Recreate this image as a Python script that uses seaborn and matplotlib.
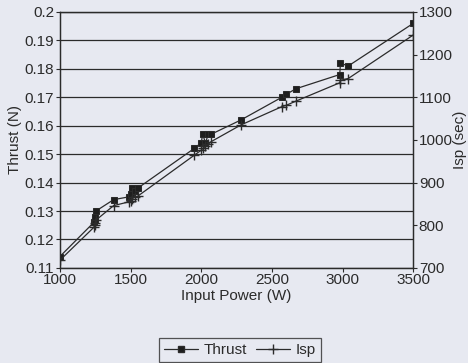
import matplotlib
matplotlib.use("Agg")
import matplotlib.pyplot as plt
import seaborn as sns
import pandas as pd
from matplotlib.lines import Line2D

# ── Data ─────────────────────────────────────────────────────────────────────
power_w = [1000, 1240, 1245, 1250, 1255, 1380, 1490, 1500, 1510, 1530, 1550,
           1950, 2000, 2010, 2030, 2050, 2070, 2280, 2570, 2600, 2670,
           2980, 2985, 3040, 3500]
thrust_n = [0.114, 0.126, 0.127, 0.128, 0.130, 0.134, 0.135, 0.136, 0.138, 0.137, 0.138,
            0.152, 0.154, 0.157, 0.154, 0.157, 0.157, 0.162, 0.170, 0.171, 0.173,
            0.178, 0.182, 0.181, 0.196]
isp_s = [718, 795, 800, 805, 812, 846, 855, 858, 862, 866, 868,
         964, 976, 980, 985, 990, 996, 1035, 1078, 1081, 1091,
         1134, 1140, 1144, 1246]

thrust_ticks = [0.11, 0.12, 0.13, 0.14, 0.15, 0.16, 0.17, 0.18, 0.19, 0.2]
isp_ticks = [700, 800, 900, 1000, 1100, 1200, 1300]
power_ticks = [1000, 1500, 2000, 2500, 3000, 3500]

df = pd.DataFrame({"power": power_w, "thrust": thrust_n, "isp": isp_s})

# ── Style ────────────────────────────────────────────────────────────────────
BG = "#e7e9f1"
INK = "#2b2b2b"
sns.set_theme(style="ticks")
plt.rcParams["font.family"] = ["Liberation Sans", "DejaVu Sans"]
plt.rcParams.update({"font.size": 10, "axes.edgecolor": INK, "xtick.color": INK,
                     "ytick.color": INK, "axes.labelcolor": INK, "text.color": INK})

fig = plt.figure(figsize=(4.68, 3.63), dpi=100, facecolor=BG)
ax = fig.add_axes([0.128, 0.262, 0.755, 0.705])
ax.set_facecolor(BG)
ax2 = ax.twinx()

sns.lineplot(data=df, x="power", y="thrust", ax=ax, sort=True, color=INK, lw=0.9,
             marker="s", markersize=5, markeredgecolor=INK, markerfacecolor="#1e1e1e")
sns.lineplot(data=df, x="power", y="isp", ax=ax2, sort=True, color=INK, lw=0.9,
             marker="+", markersize=7, markeredgewidth=1.0, markeredgecolor=INK)

ax.set_xlim(1000, 3500)
ax.set_ylim(0.11, 0.2)
ax2.set_ylim(700, 1300)
ax.set_xticks(power_ticks)
ax.set_yticks(thrust_ticks)
ax.set_yticklabels([f"{t:g}" for t in thrust_ticks])
ax2.set_yticks(isp_ticks)
ax.yaxis.grid(True, color=INK, lw=0.9)
ax.set_axisbelow(True)

ax.set_xlabel("Input Power (W)", fontsize=11, labelpad=1)
ax.set_ylabel("Thrust (N)", fontsize=11, ha="center", va="center")
ax2.set_ylabel("Isp (sec)", fontsize=11, ha="center", va="center")
ax.yaxis.set_label_coords(-0.128, 0.5)
ax2.yaxis.set_label_coords(1.133, 0.5)
for a in (ax, ax2):
    a.tick_params(length=3, width=0.8, pad=1, labelsize=11)
    for s in a.spines.values():
        s.set_linewidth(0.9)

handles = [
    Line2D([], [], color=INK, lw=0.9, marker="s", markersize=5, markerfacecolor="#1e1e1e"),
    Line2D([], [], color=INK, lw=0.9, marker="+", markersize=7),
]
leg = fig.legend(handles, ["Thrust", "Isp"], loc="center", bbox_to_anchor=(0.513, 0.036),
                 ncol=2, frameon=True, fancybox=False, edgecolor=INK, facecolor=BG,
                 handlelength=2.2, columnspacing=0.6, handletextpad=0.4,
                 borderpad=0.3, fontsize=11)
leg.get_frame().set_linewidth(0.9)

fig.savefig("out.png", dpi=100, facecolor=BG)
